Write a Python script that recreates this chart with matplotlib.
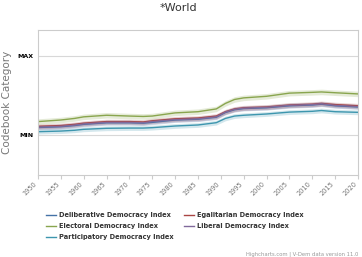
import matplotlib.pyplot as plt
import numpy as np

years = [1950, 1955, 1958, 1960, 1965, 1970, 1973, 1975, 1980, 1985,
         1989, 1991, 1993, 1995, 2000, 2005, 2010, 2012, 2015, 2020]

deliberative = [0.095, 0.105, 0.12, 0.135, 0.155, 0.155, 0.15, 0.16, 0.19, 0.20,
                0.225, 0.285, 0.32, 0.335, 0.345, 0.37, 0.38, 0.39, 0.37, 0.355]
egalitarian = [0.11, 0.12, 0.135, 0.15, 0.17, 0.17, 0.165, 0.18, 0.205, 0.215,
               0.24, 0.295, 0.33, 0.345, 0.355, 0.38, 0.39, 0.40, 0.385, 0.37]
electoral = [0.17, 0.19, 0.21, 0.23, 0.25, 0.24, 0.235, 0.24, 0.28, 0.295,
             0.33, 0.40, 0.45, 0.47, 0.49, 0.53, 0.54, 0.545, 0.535, 0.52]
liberal = [0.10, 0.11, 0.125, 0.14, 0.16, 0.16, 0.155, 0.17, 0.195, 0.205,
           0.23, 0.29, 0.325, 0.34, 0.35, 0.375, 0.385, 0.395, 0.375, 0.36]
participatory = [0.042, 0.05, 0.06, 0.072, 0.085, 0.088, 0.088, 0.093, 0.114, 0.127,
                 0.156, 0.21, 0.24, 0.25, 0.266, 0.29, 0.30, 0.31, 0.295, 0.287]

names = ['Deliberative Democracy Index', 'Egalitarian Democracy Index',
         'Electoral Democracy Index', 'Liberal Democracy Index',
         'Participatory Democracy Index']
series = [deliberative, egalitarian, electoral, liberal, participatory]
bands = [0.03, 0.03, 0.035, 0.03, 0.03]
colors = ['#4572A7', '#AA4643', '#89A54E', '#80699B', '#3D96AE']

fig = plt.figure(figsize=(3.62, 2.57), dpi=100)
ax = fig.add_axes([38 / 362, 1 - 175 / 257, 320 / 362, 145 / 257])

x = np.array(years)
handles = []
for vals, bw, c, name in zip(series, bands, colors, names):
    v = np.array(vals)
    ax.fill_between(x, v - bw, v + bw, color=c, alpha=0.22, lw=0)
    h, = ax.plot(x, v, color=c, lw=1.0, label=name)
    handles.append(h)

ax.set_xlim(1950, 2020)
ax.set_ylim(-0.506, 1.329)
ax.set_xticks(range(1950, 2021, 5))
ax.set_xticklabels([str(y) for y in range(1950, 2021, 5)], rotation=45,
                   ha='right', fontsize=4.8, color='#777777')
ax.set_yticks([0, 1])
ax.set_yticklabels(['MIN', 'MAX'], fontsize=4.5, fontweight='bold')
ax.tick_params(axis='y', length=0, pad=3)
ax.tick_params(axis='x', length=3, color='#cccccc', pad=1)
ax.grid(axis='y', color='#d8d8d8', lw=0.8)
for s in ax.spines.values():
    s.set_color('#cccccc')
    s.set_linewidth(0.8)

ax.set_ylabel('Codebook Category', fontsize=7.5, color='#777777', labelpad=4)
fig.text(178 / 362, 1 - 8 / 257, '*World', ha='center', va='center',
         fontsize=8, color='#333333')

order = [0, 2, 4, 1, 3]
fig.legend([handles[i] for i in order], [names[i] for i in order],
           loc='upper left', bbox_to_anchor=(43 / 362, 1 - 209 / 257),
           ncol=2, frameon=False, borderpad=0, handlelength=1.4,
           handletextpad=0.5, columnspacing=1.6, labelspacing=0.75,
           prop={'size': 4.8, 'weight': 'bold'}, labelcolor='#333333')

fig.text(358 / 362, 1 - 254 / 257, 'Highcharts.com | V-Dem data version 11.0',
         ha='right', va='center', fontsize=3.8, color='#999999')

fig.savefig('out.png', dpi=100)
